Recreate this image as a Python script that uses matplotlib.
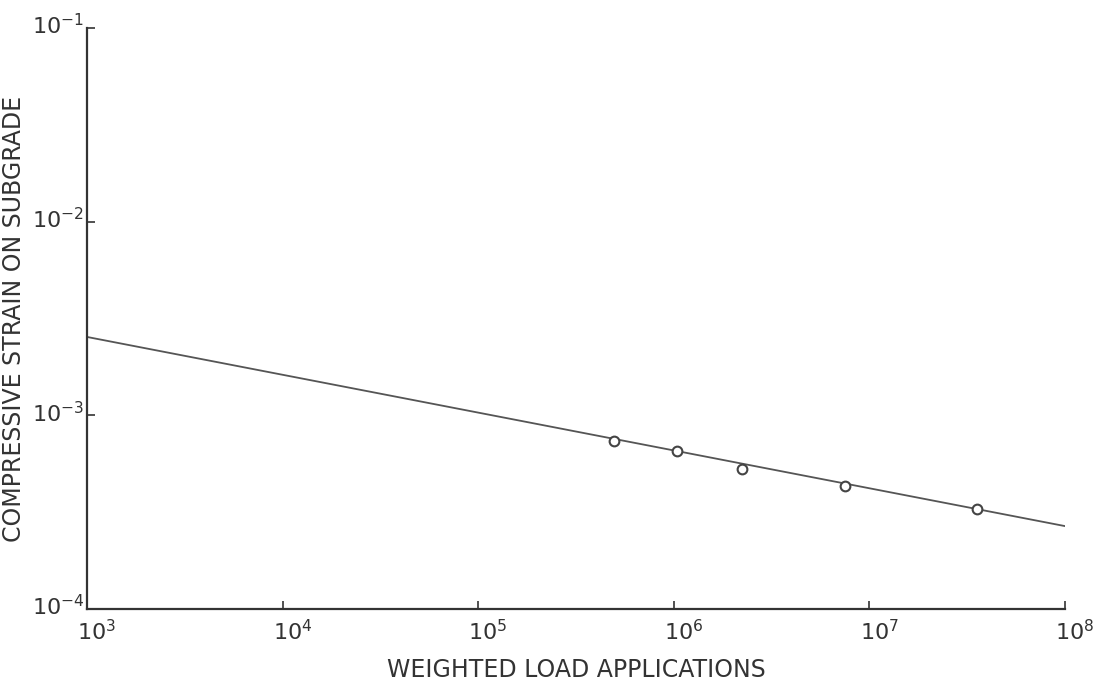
import matplotlib.pyplot as plt
import matplotlib.transforms as mtrans
from matplotlib.ticker import NullLocator

load_apps = [4.95e5, 1.04e6, 2.24e6, 7.55e6, 3.54e7]
strain = [7.37e-4, 6.55e-4, 5.29e-4, 4.32e-4, 3.28e-4]

fit_x = [1e3, 1e8]
fit_y = [2.54e-3, 2.68e-4]

x_ticks = [1e3, 1e4, 1e5, 1e6, 1e7, 1e8]
x_labels = ['$10^{3}$', '$10^{4}$', '$10^{5}$', '$10^{6}$', '$10^{7}$', '$10^{8}$']
y_ticks = [1e-4, 1e-3, 1e-2, 1e-1]
y_labels = ['$10^{-4}$', '$10^{-3}$', '$10^{-2}$', '$10^{-1}$']

plt.rcParams['font.family'] = ['DejaVu Sans']
plt.rcParams['mathtext.default'] = 'regular'

fig = plt.figure(figsize=(10.97, 6.8), dpi=100)
ax = fig.add_axes([0.0793, 0.1044, 0.8915, 0.8544])

ax.plot(fit_x, fit_y, color='#555555', lw=1.3)
ax.plot(load_apps, strain, 'o', ms=7, mfc='white', mec='#444444', mew=1.5)

ax.set_xscale('log')
ax.set_yscale('log')
ax.set_xlim(1e3, 1e8)
ax.set_ylim(1e-4, 1e-1)

ax.set_xticks(x_ticks)
ax.set_xticklabels(x_labels)
ax.set_yticks(y_ticks)
ax.set_yticklabels(y_labels)
ax.xaxis.set_minor_locator(NullLocator())
ax.yaxis.set_minor_locator(NullLocator())

ax.tick_params(direction='in', length=6, width=1.2, colors='#333333',
               labelsize=16)
ax.tick_params(axis='x', pad=7)
ax.tick_params(axis='y', pad=2)

# x tick labels start just left of the tick, like the original
offset = mtrans.ScaledTranslation(-7 / 72, 0, fig.dpi_scale_trans)
for lbl in ax.get_xticklabels():
    lbl.set_horizontalalignment('left')
    lbl.set_transform(lbl.get_transform() + offset)
# y tick labels sit a little above their tick
yoff = mtrans.ScaledTranslation(0, 3 / 72, fig.dpi_scale_trans)
for lbl in ax.get_yticklabels():
    lbl.set_transform(lbl.get_transform() + yoff)

for s in ['top', 'right']:
    ax.spines[s].set_visible(False)
for s in ['left', 'bottom']:
    ax.spines[s].set_linewidth(1.6)
    ax.spines[s].set_color('#333333')

ax.set_xlabel('WEIGHTED LOAD APPLICATIONS', fontsize=17, color='#333333',
              labelpad=10)
ax.set_ylabel('COMPRESSIVE STRAIN ON SUBGRADE', fontsize=17, color='#333333',
              labelpad=4)

fig.savefig('out.png', dpi=100)
